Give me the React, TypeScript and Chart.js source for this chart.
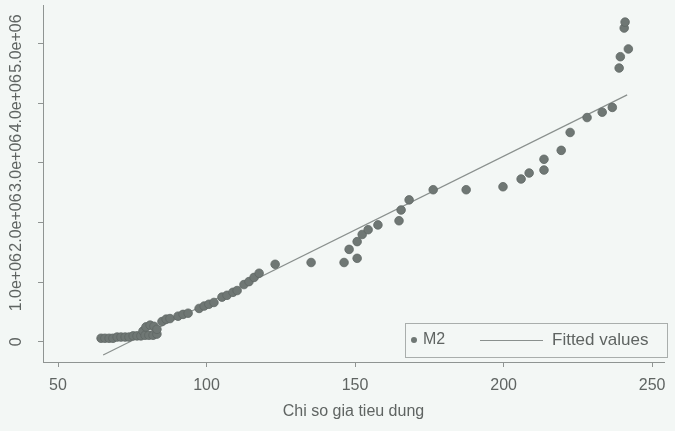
import { useEffect, useRef } from "react";
import { Chart, registerables } from "chart.js";

Chart.register(...registerables);

// Consumer price index (x) and M2 (y)
const cpi = [
  64.5, 65.8, 67.2, 68.5, 69.9, 71.2, 72.6, 73.9, 75.3, 76.6, 77.9, 78.6, 79.3, 79.6, 80.6, 81.0,
  82.0, 82.3, 83.3, 83.3, 85.0, 86.4, 87.7, 90.4, 92.1, 93.8, 97.5, 99.2, 100.8, 102.5, 105.2,
  106.9, 108.9, 110.3, 112.6, 114.3, 116.0, 117.7, 123.1, 135.2, 146.3, 148.0, 150.7, 150.7,
  152.4, 154.4, 157.7, 164.8, 165.5, 168.2, 176.3, 187.4, 199.8, 205.9, 208.6, 213.6, 213.6,
  219.4, 222.4, 228.1, 233.2, 236.6, 238.9, 239.3, 242.0, 240.6, 240.9,
];
const m2 = [
  60000, 60000, 60000, 60000, 80000, 80000, 80000, 80000, 100000, 100000, 100000, 180000, 110000,
  250000, 110000, 280000, 110000, 260000, 130000, 210000, 340000, 380000, 390000, 430000, 460000,
  480000, 560000, 600000, 630000, 660000, 750000, 780000, 830000, 860000, 960000, 1010000, 1080000,
  1150000, 1300000, 1330000, 1330000, 1550000, 1400000, 1680000, 1800000, 1880000, 1960000,
  2030000, 2210000, 2380000, 2550000, 2550000, 2600000, 2730000, 2830000, 2880000, 3060000,
  3210000, 3510000, 3760000, 3850000, 3930000, 4590000, 4780000, 4910000, 5260000, 5360000,
];
// Fitted values line (read at its two ends)
const fittedCpi = [65.2, 241.6];
const fittedM2 = [-220000, 4140000];

const xTicks = [50, 100, 150, 200, 250];
const yTicks = [0, 1000000, 2000000, 3000000, 4000000, 5000000];
const seriesNames = ["M2", "Fitted values"];
const xTitle = "Chi so gia tieu dung";

const BG = "#f3f7f5";
const TEXT = "#5f6462";
const AXIS = "#8f9492";
const MARK = "#6f7774";
const LINE = "#8a908e";
const FONT = "'Liberation Sans', Arial, sans-serif";

function fmtY(v: number): string {
  if (v === 0) return "0";
  const e = Math.floor(Math.log10(Math.abs(v)));
  const m = v / Math.pow(10, e);
  return m.toFixed(1) + "e" + (e >= 0 ? "+" : "-") + String(Math.abs(e)).padStart(2, "0");
}

const bgPlugin = {
  id: "bg",
  beforeDraw(chart: any) {
    const { ctx, width, height } = chart;
    ctx.save();
    ctx.fillStyle = BG;
    ctx.fillRect(0, 0, width, height);
    ctx.restore();
  },
};

const yLabelPlugin = {
  id: "ylabels",
  afterDraw(chart: any) {
    const { ctx } = chart;
    const ys = chart.scales.y;
    ctx.save();
    ctx.fillStyle = TEXT;
    ctx.font = `16px ${FONT}`;
    ctx.textAlign = "center";
    ctx.textBaseline = "middle";
    for (const t of ys.ticks) {
      const py = ys.getPixelForValue(t.value);
      ctx.save();
      ctx.translate(17, py);
      ctx.rotate(-Math.PI / 2);
      ctx.fillText(fmtY(t.value), 0, 0);
      ctx.restore();
    }
    ctx.restore();
  },
};

const legendPlugin = {
  id: "boxlegend",
  afterDraw(chart: any) {
    const { ctx, chartArea } = chart;
    const right = chartArea.right + 3;
    const left = chartArea.right - 259;
    const bottom = chartArea.bottom - 5;
    const top = chartArea.bottom - 39;
    const cy = (top + bottom) / 2;
    ctx.save();
    ctx.fillStyle = BG;
    ctx.fillRect(left, top, right - left, bottom - top);
    ctx.strokeStyle = "#a9aeac";
    ctx.lineWidth = 1;
    ctx.strokeRect(left + 0.5, top + 0.5, right - left, bottom - top);
    ctx.fillStyle = MARK;
    ctx.beginPath();
    ctx.arc(left + 9, cy, 3, 0, Math.PI * 2);
    ctx.fill();
    ctx.fillStyle = TEXT;
    ctx.font = `16px ${FONT}`;
    ctx.textAlign = "left";
    ctx.textBaseline = "middle";
    ctx.fillText(seriesNames[0], left + 18, cy);
    ctx.strokeStyle = LINE;
    ctx.beginPath();
    ctx.moveTo(left + 75, cy + 0.5);
    ctx.lineTo(left + 138, cy + 0.5);
    ctx.stroke();
    ctx.font = `17px ${FONT}`;
    ctx.fillText(seriesNames[1], left + 147, cy);
    ctx.restore();
  },
};

export default function App() {
  const ref = useRef<HTMLCanvasElement | null>(null);
  useEffect(() => {
    if (!ref.current) return;
    const chart = new Chart(ref.current, {
      type: "scatter",
      data: {
        datasets: [
          {
            label: seriesNames[0],
            data: cpi.map((x, i) => ({ x, y: m2[i] })),
            backgroundColor: MARK,
            borderColor: "#5f6764",
            borderWidth: 0.8,
            pointRadius: 4.3,
            showLine: false,
          },
          {
            type: "line",
            label: seriesNames[1],
            data: fittedCpi.map((x, i) => ({ x, y: fittedM2[i] })),
            borderColor: LINE,
            borderWidth: 1.2,
            pointRadius: 0,
            fill: false,
          },
        ],
      },
      options: {
        animation: false,
        responsive: true,
        maintainAspectRatio: false,
        layout: { padding: { top: 3, right: 11, left: 0, bottom: 0 } },
        plugins: { legend: { display: false }, tooltip: { enabled: false } },
        scales: {
          x: {
            type: "linear",
            min: 44.95,
            max: 254,
            afterBuildTicks: (s: any) => {
              s.ticks = xTicks.map((v) => ({ value: v }));
            },
            afterFit: (s: any) => {
              s.height = 69;
            },
            grid: { drawOnChartArea: false, drawTicks: true, tickLength: 5, color: AXIS },
            border: { display: true, color: AXIS, width: 1 },
            ticks: {
              color: TEXT,
              font: { family: FONT, size: 16 },
              padding: 9,
              maxRotation: 0,
              callback: (v: any) => String(v),
            },
            title: {
              display: true,
              text: xTitle,
              color: TEXT,
              font: { family: FONT, size: 16 },
              padding: { top: 0, bottom: 10 },
            },
          },
          y: {
            type: "linear",
            min: -338000,
            max: 5645000,
            afterBuildTicks: (s: any) => {
              s.ticks = yTicks.map((v) => ({ value: v }));
            },
            afterFit: (s: any) => {
              s.width = 43;
            },
            grid: { drawOnChartArea: false, drawTicks: true, tickLength: 5, color: AXIS },
            border: { display: true, color: AXIS, width: 1 },
            ticks: { display: false },
          },
        },
      },
      plugins: [bgPlugin, yLabelPlugin, legendPlugin],
    });
    return () => chart.destroy();
  }, []);
  return (
    <div style={{ position: "absolute", left: 0, top: 0, width: 675, height: 431, background: BG }}>
      <canvas ref={ref} />
    </div>
  );
}
